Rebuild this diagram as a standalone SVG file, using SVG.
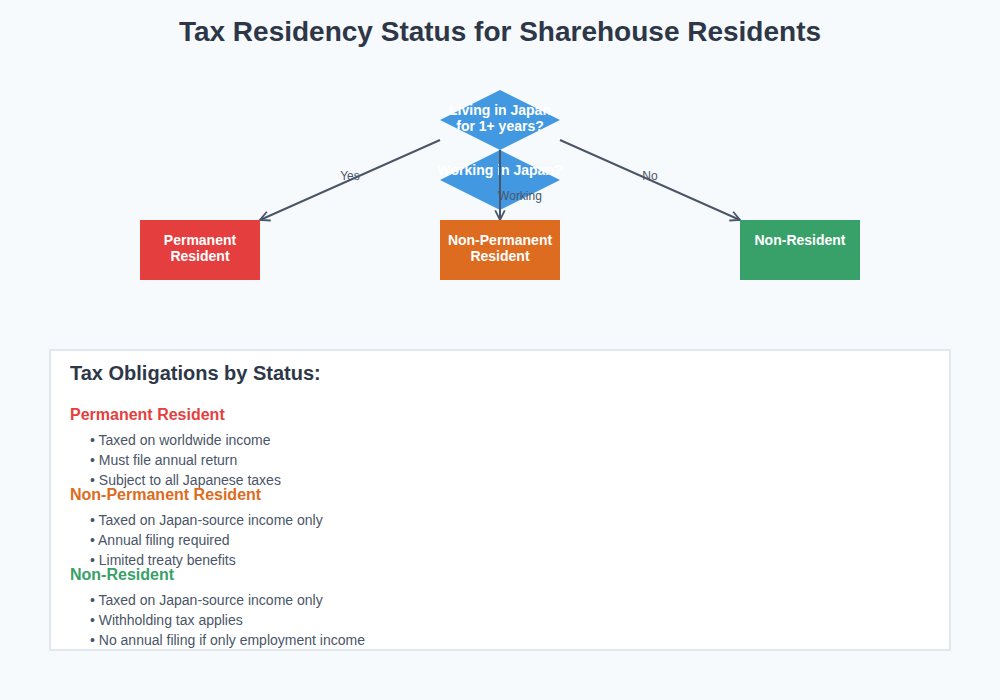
<svg xmlns="http://www.w3.org/2000/svg" width="1000" height="700" viewBox="0 0 1000 700">
<defs>
<style>
.t{font-family:"Liberation Sans",Arial,sans-serif}
.nt{font-family:"Liberation Sans",Arial,sans-serif;font-size:14px;font-weight:bold;fill:#ffffff;text-anchor:middle}
.lbl{font-family:"Liberation Sans",Arial,sans-serif;font-size:12px;fill:#4a5568;text-anchor:middle}
.b{font-family:"Liberation Sans",Arial,sans-serif;font-size:14px;fill:#4a5568}
.h{font-family:"Liberation Sans",Arial,sans-serif;font-size:16px;font-weight:bold}
.c{stroke:#4a5568;stroke-width:2;fill:none}
</style>
<marker id="arr" viewBox="0 0 10 10" refX="9" refY="5" markerWidth="6" markerHeight="6" orient="auto" markerUnits="strokeWidth">
<path d="M1,1 L9,5 L1,9" fill="none" stroke="#4a5568" stroke-width="1.5"/>
</marker>
</defs>
<rect width="1000" height="700" fill="#f7fafc"/>
<text class="t" x="500" y="41" font-size="28" font-weight="bold" fill="#2d3748" text-anchor="middle">Tax Residency Status for Sharehouse Residents</text>
<g id="q1">
<polygon points="500,90 560,120 500,150 440,120" fill="#4299e1"/>
<text class="nt" x="500" y="115">Living in Japan</text>
<text class="nt" x="500" y="131">for 1+ years?</text>
</g>
<g id="q2">
<polygon points="500,150 560,180 500,210 440,180" fill="#4299e1"/>
<text class="nt" x="500" y="175">Working in Japan?</text>
</g>
<g id="connectors">
<line class="c" x1="440" y1="140" x2="260" y2="220" marker-end="url(#arr)"/>
<text class="lbl" x="350" y="180">Yes</text>
<line class="c" x1="560" y1="140" x2="740" y2="220" marker-end="url(#arr)"/>
<text class="lbl" x="650" y="180">No</text>
<line class="c" x1="500" y1="150" x2="500" y2="220" marker-end="url(#arr)"/>
<text class="lbl" x="520" y="200">Working</text>
</g>
<g id="permanent">
<rect x="140" y="220" width="120" height="60" fill="#e53e3e"/>
<text class="nt" x="200" y="245">Permanent</text>
<text class="nt" x="200" y="261">Resident</text>
</g>
<g id="nonpermanent">
<rect x="440" y="220" width="120" height="60" fill="#dd6b20"/>
<text class="nt" x="500" y="245">Non-Permanent</text>
<text class="nt" x="500" y="261">Resident</text>
</g>
<g id="nonresident">
<rect x="740" y="220" width="120" height="60" fill="#38a169"/>
<text class="nt" x="800" y="245">Non-Resident</text>
</g>
<g id="panel">
<rect x="50" y="350" width="900" height="300" fill="#ffffff" stroke="#e2e8f0" stroke-width="2"/>
<text class="t" x="70" y="380" font-size="20" font-weight="bold" fill="#2d3748">Tax Obligations by Status:</text>
<text class="h" x="70" y="420" fill="#e53e3e">Permanent Resident</text>
<text class="b" x="90" y="445">• Taxed on worldwide income</text>
<text class="b" x="90" y="465">• Must file annual return</text>
<text class="b" x="90" y="485">• Subject to all Japanese taxes</text>
<text class="h" x="70" y="500" fill="#dd6b20">Non-Permanent Resident</text>
<text class="b" x="90" y="525">• Taxed on Japan-source income only</text>
<text class="b" x="90" y="545">• Annual filing required</text>
<text class="b" x="90" y="565">• Limited treaty benefits</text>
<text class="h" x="70" y="580" fill="#38a169">Non-Resident</text>
<text class="b" x="90" y="605">• Taxed on Japan-source income only</text>
<text class="b" x="90" y="625">• Withholding tax applies</text>
<text class="b" x="90" y="645">• No annual filing if only employment income</text>
</g>
</svg>
